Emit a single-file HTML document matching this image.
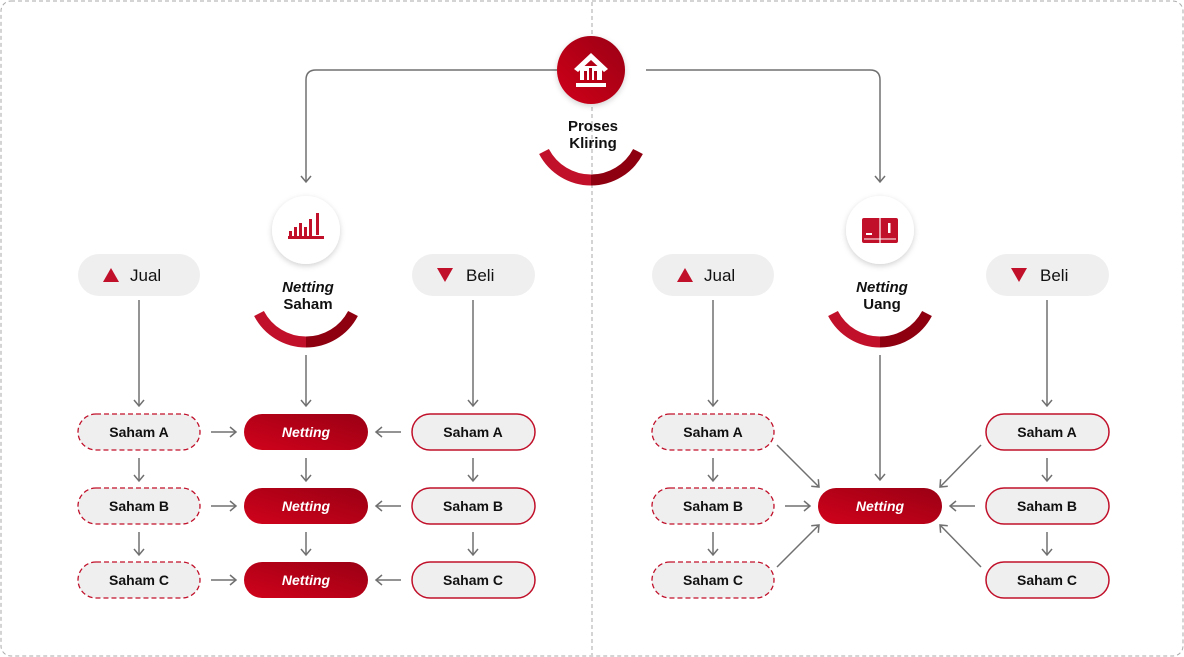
<!DOCTYPE html>
<html><head><meta charset="utf-8"><style>
html,body{margin:0;padding:0;background:#fff;}
svg{display:block;}
text{font-family:"Liberation Sans",sans-serif;}
</style></head><body>
<svg width="1184" height="657" viewBox="0 0 1184 657" xmlns="http://www.w3.org/2000/svg">
<defs>
<marker id="ar" markerWidth="12" markerHeight="12" refX="9" refY="6" orient="auto" markerUnits="userSpaceOnUse">
<path d="M3,1 L9,6 L3,11" fill="none" stroke="#707070" stroke-width="1.5"/>
</marker>
<linearGradient id="rg" x1="0" y1="1" x2="1" y2="0">
<stop offset="0" stop-color="#d0021b"/><stop offset="1" stop-color="#9a0014"/>
</linearGradient>
<filter id="sh" x="-30%" y="-30%" width="160%" height="160%"><feDropShadow dx="0" dy="2" stdDeviation="3" flood-color="#000" flood-opacity="0.18"/></filter>
<g id="arc">
<path d="M-47,24.5 A53,53 0 0 0 0,53" fill="none" stroke="#c1112a" stroke-width="11"/>
<path d="M0,53 A53,53 0 0 0 47,24.5" fill="none" stroke="#8e0010" stroke-width="11"/>
</g>
</defs>
<rect x="1" y="1" width="1182" height="655" rx="10" fill="#fff" stroke="#aaa" stroke-dasharray="4,3"/>
<line x1="592" y1="2" x2="592" y2="655" stroke="#aaa" stroke-dasharray="4,3"/>

<g fill="none" stroke="#707070" stroke-width="1.5">
<path d="M557,70 H316 Q306,70 306,80 V182" marker-end="url(#ar)"/>
<path d="M646,70 H870 Q880,70 880,80 V182" marker-end="url(#ar)"/>
</g>

<circle cx="591" cy="70" r="34" fill="url(#rg)" filter="url(#sh)"/>
<g fill="#fff">
<path d="M574,69 L591,53 L608,69 L604,72 L591,60 L578,72 Z"/>
<rect x="580" y="66" width="22" height="14"/>
<rect x="576" y="83" width="30" height="4"/>
</g>
<g fill="url(#rg)"><rect x="584" y="71" width="3" height="9"/><rect x="589" y="68" width="3" height="12"/><rect x="594" y="71" width="3" height="9"/></g>
<text x="593" y="131" font-size="15" font-weight="bold" text-anchor="middle" fill="#111">Proses</text>
<text x="593" y="148" font-size="15" font-weight="bold" text-anchor="middle" fill="#111">Kliring</text>
<use href="#arc" x="591" y="127"/>

<!-- LEFT -->
<circle cx="306" cy="230" r="34" fill="#fff" filter="url(#sh)"/>
<g fill="#c0102a">
<rect x="288" y="236" width="36" height="3"/>
<rect x="289" y="231" width="3" height="6"/><rect x="294" y="227" width="3" height="10"/><rect x="299" y="223" width="3" height="14"/><rect x="304" y="227" width="3" height="10"/><rect x="309" y="219" width="3" height="18"/><rect x="316" y="213" width="3" height="22"/>
</g>
<text x="308" y="292" font-size="15" font-weight="bold" font-style="italic" text-anchor="middle" fill="#111">Netting</text>
<text x="308" y="309" font-size="15" font-weight="bold" text-anchor="middle" fill="#111">Saham</text>
<use href="#arc" x="306" y="289"/>

<g id="side">
<rect x="78" y="254" width="122" height="42" rx="21" fill="#efefef"/>
<path d="M103,282 L111,268 L119,282 Z" fill="#c0102a"/>
<text x="130" y="281" font-size="17" fill="#111">Jual</text>
<rect x="412" y="254" width="123" height="42" rx="21" fill="#efefef"/>
<path d="M437,268 L453,268 L445,282 Z" fill="#c0102a"/>
<text x="466" y="281" font-size="17" fill="#111">Beli</text>
<g fill="none" stroke="#707070" stroke-width="1.5">
<line x1="139" y1="300" x2="139" y2="406" marker-end="url(#ar)"/>
<line x1="473" y1="300" x2="473" y2="406" marker-end="url(#ar)"/>
<line x1="139" y1="458" x2="139" y2="481" marker-end="url(#ar)"/>
<line x1="139" y1="532" x2="139" y2="555" marker-end="url(#ar)"/>
<line x1="473" y1="458" x2="473" y2="481" marker-end="url(#ar)"/>
<line x1="473" y1="532" x2="473" y2="555" marker-end="url(#ar)"/>
</g>
<g fill="#efefef" stroke="#c0102a" stroke-width="1.3" stroke-dasharray="5,3">
<rect x="78" y="414" width="122" height="36" rx="18"/>
<rect x="78" y="488" width="122" height="36" rx="18"/>
<rect x="78" y="562" width="122" height="36" rx="18"/>
</g>
<g fill="#efefef" stroke="#c0102a" stroke-width="1.5">
<rect x="412" y="414" width="123" height="36" rx="18"/>
<rect x="412" y="488" width="123" height="36" rx="18"/>
<rect x="412" y="562" width="123" height="36" rx="18"/>
</g>
<g font-size="14" font-weight="bold" text-anchor="middle" fill="#111">
<text x="139" y="437">Saham A</text><text x="139" y="511">Saham B</text><text x="139" y="585">Saham C</text>
<text x="473" y="437">Saham A</text><text x="473" y="511">Saham B</text><text x="473" y="585">Saham C</text>
</g>
</g>

<g fill="none" stroke="#707070" stroke-width="1.5">
<line x1="306" y1="355" x2="306" y2="406" marker-end="url(#ar)"/>
<line x1="306" y1="458" x2="306" y2="481" marker-end="url(#ar)"/>
<line x1="306" y1="532" x2="306" y2="555" marker-end="url(#ar)"/>
<line x1="211" y1="432" x2="236" y2="432" marker-end="url(#ar)"/>
<line x1="211" y1="506" x2="236" y2="506" marker-end="url(#ar)"/>
<line x1="211" y1="580" x2="236" y2="580" marker-end="url(#ar)"/>
<line x1="401" y1="432" x2="376" y2="432" marker-end="url(#ar)"/>
<line x1="401" y1="506" x2="376" y2="506" marker-end="url(#ar)"/>
<line x1="401" y1="580" x2="376" y2="580" marker-end="url(#ar)"/>
</g>
<g fill="url(#rg)">
<rect x="244" y="414" width="124" height="36" rx="18"/>
<rect x="244" y="488" width="124" height="36" rx="18"/>
<rect x="244" y="562" width="124" height="36" rx="18"/>
</g>
<g font-size="14" font-weight="bold" font-style="italic" text-anchor="middle" fill="#fff">
<text x="306" y="437">Netting</text><text x="306" y="511">Netting</text><text x="306" y="585">Netting</text>
</g>

<!-- RIGHT -->
<use href="#side" x="574" y="0"/>
<circle cx="880" cy="230" r="34" fill="#fff" filter="url(#sh)"/>
<rect x="862" y="218" width="36" height="25" rx="2" fill="#c0102a"/>
<line x1="880" y1="218" x2="880" y2="243" stroke="#fff" stroke-width="1.2"/>
<line x1="864" y1="239" x2="896" y2="239" stroke="#fff" stroke-width="1"/>
<rect x="866" y="233" width="6" height="2" fill="#fff"/>
<rect x="888" y="223" width="2.5" height="10" fill="#fff"/>
<text x="882" y="292" font-size="15" font-weight="bold" font-style="italic" text-anchor="middle" fill="#111">Netting</text>
<text x="882" y="309" font-size="15" font-weight="bold" text-anchor="middle" fill="#111">Uang</text>
<use href="#arc" x="880" y="289"/>
<g fill="none" stroke="#707070" stroke-width="1.5">
<line x1="880" y1="355" x2="880" y2="480" marker-end="url(#ar)"/>
<line x1="777" y1="445" x2="819" y2="487" marker-end="url(#ar)"/>
<line x1="785" y1="506" x2="810" y2="506" marker-end="url(#ar)"/>
<line x1="777" y1="567" x2="819" y2="525" marker-end="url(#ar)"/>
<line x1="981" y1="445" x2="940" y2="487" marker-end="url(#ar)"/>
<line x1="975" y1="506" x2="950" y2="506" marker-end="url(#ar)"/>
<line x1="981" y1="567" x2="940" y2="525" marker-end="url(#ar)"/>
</g>
<rect x="818" y="488" width="124" height="36" rx="18" fill="url(#rg)"/>
<text x="880" y="511" font-size="14" font-weight="bold" font-style="italic" text-anchor="middle" fill="#fff">Netting</text>
</svg>
</body></html>
